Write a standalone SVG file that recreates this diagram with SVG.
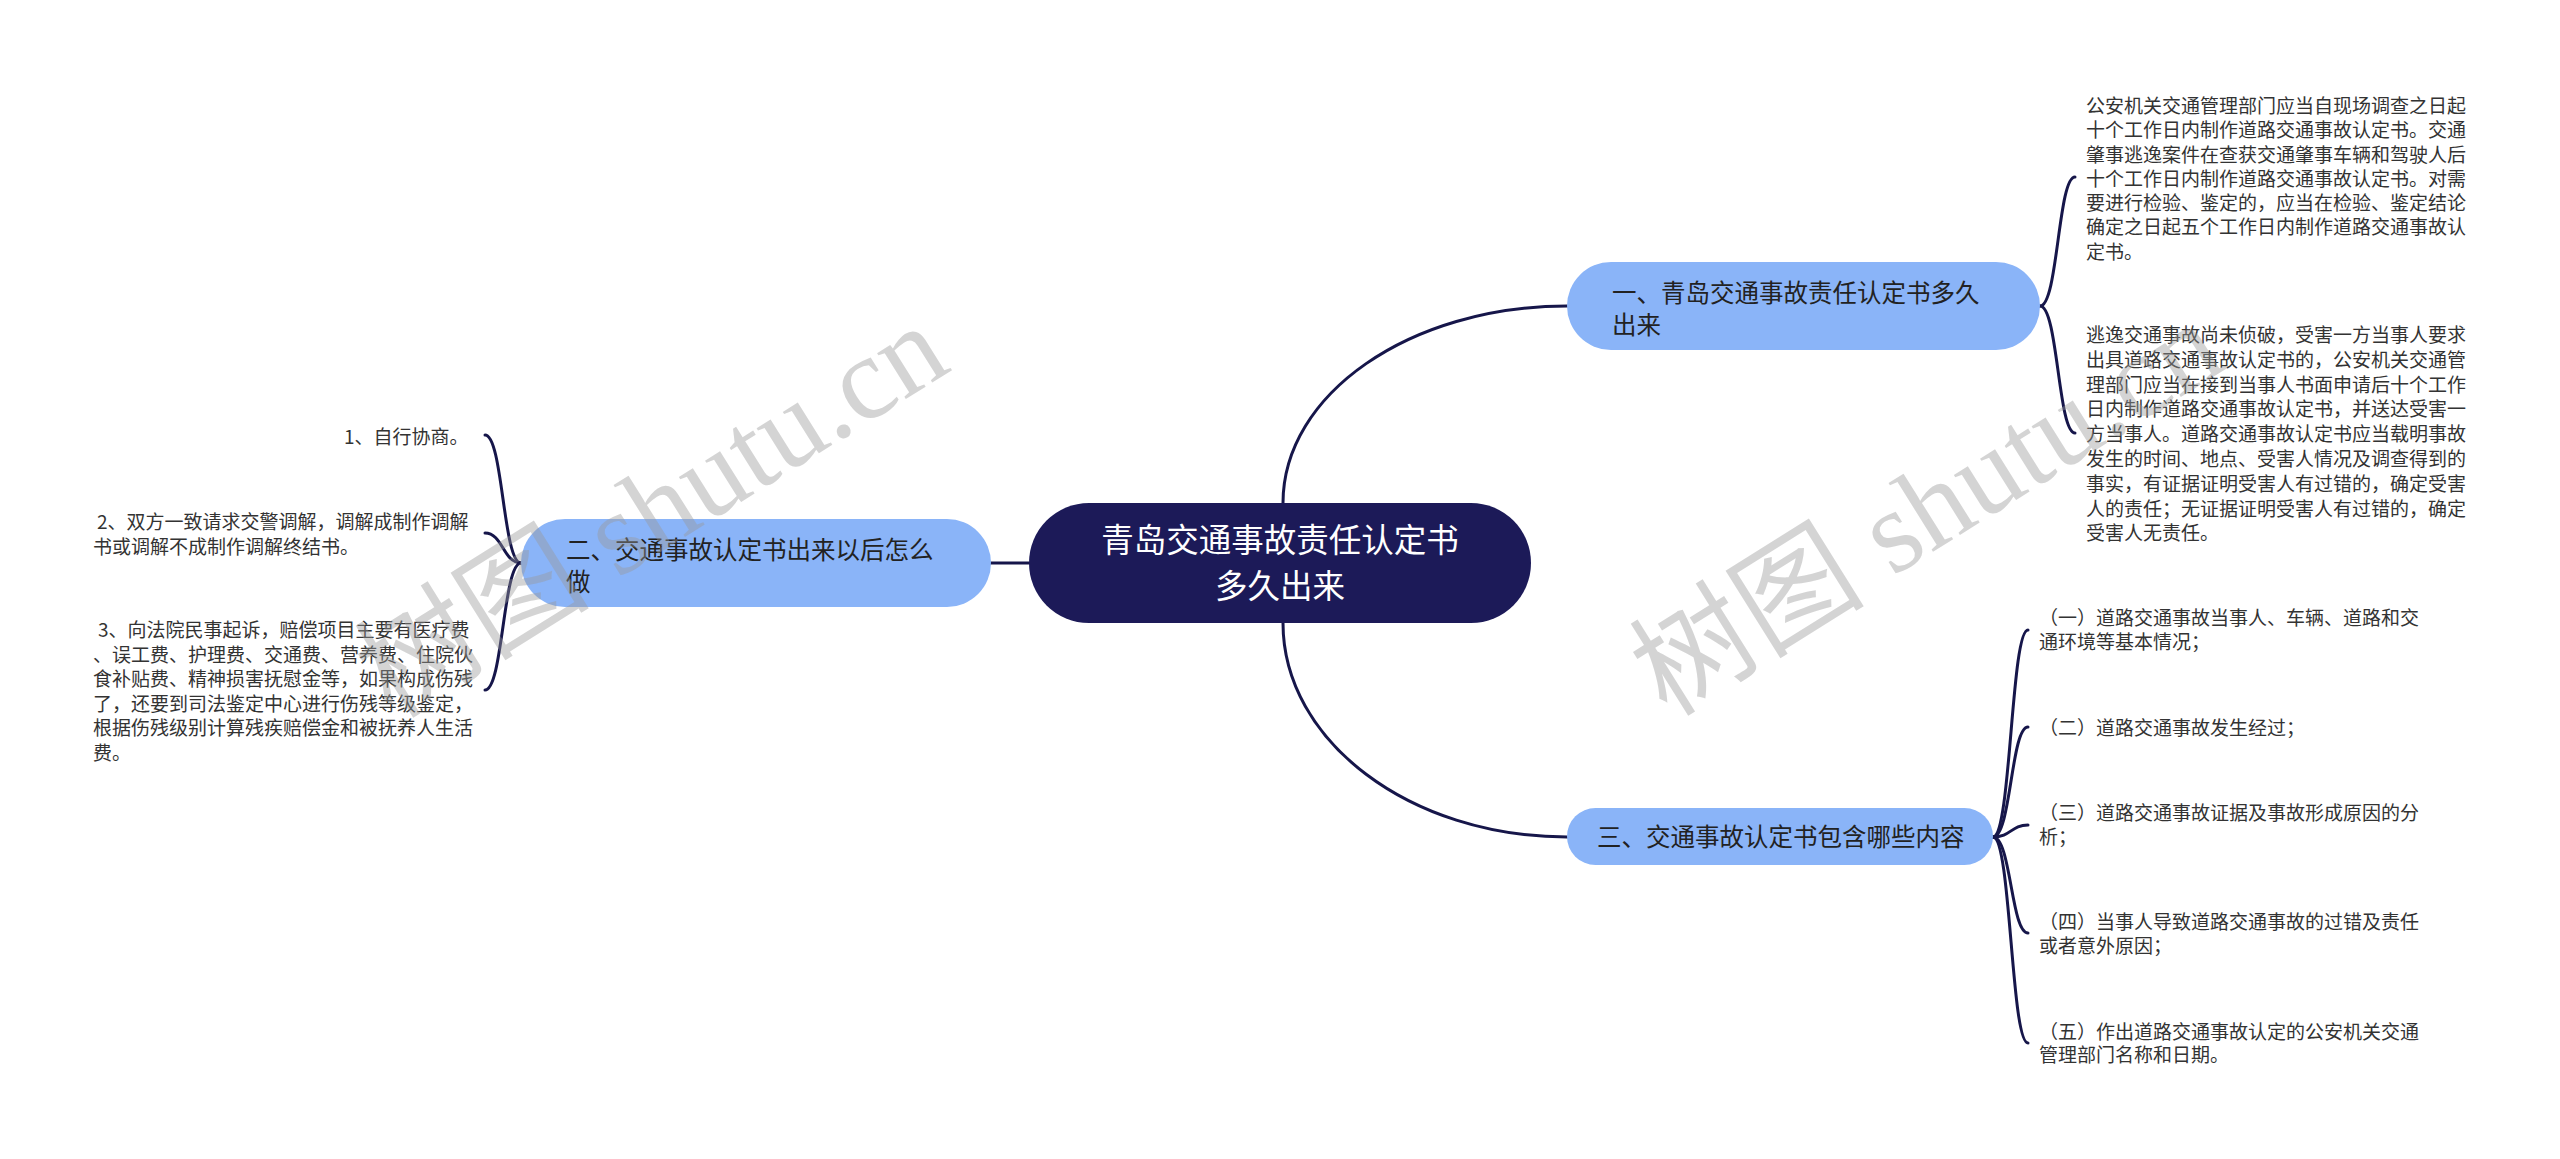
<svg xmlns="http://www.w3.org/2000/svg" width="2560" height="1159" viewBox="0 0 2560 1159">
<style>
.conn{fill:none;stroke:#16164a;stroke-width:3;stroke-linecap:round}
.root{fill:#1c1a58}
.branch{fill:#8ab4f8}
.t{font-family:"Noto Sans CJK SC","Liberation Sans",sans-serif}
.rt{font-size:32.5px;fill:#ffffff;text-anchor:middle}
.bt{font-size:24.5px;fill:#222222}
.lt{font-size:19px;fill:#333333}
.wm{font-family:"Liberation Serif","Noto Sans CJK SC",serif;font-size:118px;fill:#999999;fill-opacity:0.42}
</style>
<rect width="2560" height="1159" fill="#ffffff"/>
<g id="connectors">
<path class="conn" d="M1029,563 H991"/>
<path class="conn" d="M1283,503 C1283,394 1410,306 1567,306"/>
<path class="conn" d="M1283,623 C1283,741 1410,837 1567,837"/>
<path class="conn" d="M2040,306 C2058,306 2058,177 2075,177"/>
<path class="conn" d="M2040,306 C2058,306 2058,433 2075,433"/>
<path class="conn" d="M1993,837 C2011,837 2011,630 2028,630"/>
<path class="conn" d="M1993,837 C2011,837 2011,727 2028,727"/>
<path class="conn" d="M1993,837 C2011,837 2011,825 2028,825"/>
<path class="conn" d="M1993,837 C2011,837 2011,933 2028,933"/>
<path class="conn" d="M1993,837 C2011,837 2011,1043 2028,1043"/>
<path class="conn" d="M521,563 C503,563 503,435 485,435"/>
<path class="conn" d="M521,563 C503,563 503,533 485,533"/>
<path class="conn" d="M521,563 C503,563 503,690 485,690"/>
</g>
<g id="root">
<rect class="root" x="1029" y="503" width="502" height="120" rx="60"/>
<text class="t rt"><tspan x="1280" y="552">青岛交通事故责任认定书</tspan><tspan x="1280" y="598">多久出来</tspan></text>
</g>
<g id="branch1">
<rect class="branch" x="1567" y="262" width="473" height="88" rx="44"/>
<text class="t bt"><tspan x="1612" y="302">一、青岛交通事故责任认定书多久</tspan><tspan x="1612" y="334">出来</tspan></text>
</g>
<g id="branch2">
<rect class="branch" x="521" y="519" width="470" height="88" rx="44"/>
<text class="t bt"><tspan x="566" y="559">二、交通事故认定书出来以后怎么</tspan><tspan x="566" y="591">做</tspan></text>
</g>
<g id="branch3">
<rect class="branch" x="1567" y="808" width="426" height="57" rx="28.5"/>
<text class="t bt" x="1597" y="846">三、交通事故认定书包含哪些内容</text>
</g>
<g id="leaf1-1">
<text class="t lt"><tspan x="2086" y="113">公安机关交通管理部门应当自现场调查之日起</tspan><tspan x="2086" y="137.25">十个工作日内制作道路交通事故认定书。交通</tspan><tspan x="2086" y="161.5">肇事逃逸案件在查获交通肇事车辆和驾驶人后</tspan><tspan x="2086" y="185.75">十个工作日内制作道路交通事故认定书。对需</tspan><tspan x="2086" y="210">要进行检验、鉴定的，应当在检验、鉴定结论</tspan><tspan x="2086" y="234.25">确定之日起五个工作日内制作道路交通事故认</tspan><tspan x="2086" y="258.5">定书。</tspan></text>
</g>
<g id="leaf1-2">
<text class="t lt"><tspan x="2086" y="342">逃逸交通事故尚未侦破，受害一方当事人要求</tspan><tspan x="2086" y="366.8">出具道路交通事故认定书的，公安机关交通管</tspan><tspan x="2086" y="391.6">理部门应当在接到当事人书面申请后十个工作</tspan><tspan x="2086" y="416.4">日内制作道路交通事故认定书，并送达受害一</tspan><tspan x="2086" y="441.2">方当事人。道路交通事故认定书应当载明事故</tspan><tspan x="2086" y="466">发生的时间、地点、受害人情况及调查得到的</tspan><tspan x="2086" y="490.8">事实，有证据证明受害人有过错的，确定受害</tspan><tspan x="2086" y="515.6">人的责任；无证据证明受害人有过错的，确定</tspan><tspan x="2086" y="540.4">受害人无责任。</tspan></text>
</g>
<g id="leaf3-1">
<text class="t lt"><tspan x="2039" y="625.3">（一）道路交通事故当事人、车辆、道路和交</tspan><tspan x="2039" y="648.7">通环境等基本情况；</tspan></text>
</g>
<g id="leaf3-2">
<text class="t lt" x="2039" y="735.3">（二）道路交通事故发生经过；</text>
</g>
<g id="leaf3-3">
<text class="t lt"><tspan x="2039" y="819.7">（三）道路交通事故证据及事故形成原因的分</tspan><tspan x="2039" y="843.7">析；</tspan></text>
</g>
<g id="leaf3-4">
<text class="t lt"><tspan x="2039" y="928.7">（四）当事人导致道路交通事故的过错及责任</tspan><tspan x="2039" y="953">或者意外原因；</tspan></text>
</g>
<g id="leaf3-5">
<text class="t lt"><tspan x="2039" y="1038.7">（五）作出道路交通事故认定的公安机关交通</tspan><tspan x="2039" y="1062">管理部门名称和日期。</tspan></text>
</g>
<g id="leaf2-1">
<text class="t lt" x="344" y="443.7">1、自行协商。</text>
</g>
<g id="leaf2-2">
<text class="t lt"><tspan x="97" y="528.7">2、双方一致请求交警调解，调解成制作调解</tspan><tspan x="93" y="553.7">书或调解不成制作调解终结书。</tspan></text>
</g>
<g id="leaf2-3">
<text class="t lt"><tspan x="98" y="637">3、向法院民事起诉，赔偿项目主要有医疗费</tspan><tspan x="93" y="661.6">、误工费、护理费、交通费、营养费、住院伙</tspan><tspan x="93" y="686.2">食补贴费、精神损害抚慰金等，如果构成伤残</tspan><tspan x="93" y="710.8">了，还要到司法鉴定中心进行伤残等级鉴定，</tspan><tspan x="93" y="735.4">根据伤残级别计算残疾赔偿金和被抚养人生活</tspan><tspan x="93" y="760">费。</tspan></text>
</g>
<g id="watermark">
<text class="wm" transform="translate(392,720) rotate(-32)">树图 shutu.cn</text>
<text class="wm" transform="translate(1667,718) rotate(-32)">树图 shutu.cn</text>
</g>
</svg>
